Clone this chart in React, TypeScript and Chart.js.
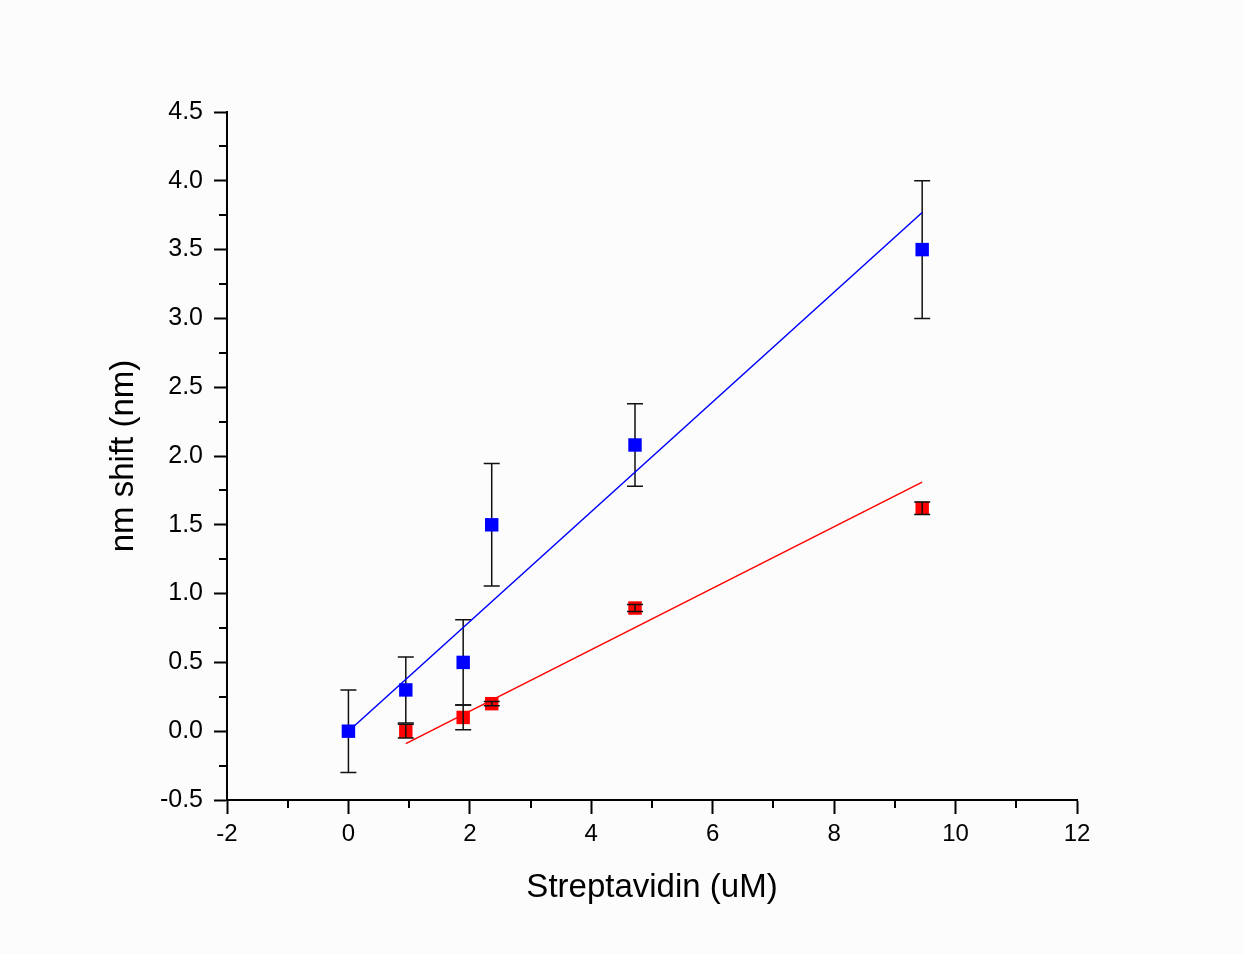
import React, { useEffect, useRef } from "react";
import { Chart, registerables } from "chart.js";

Chart.register(...registerables);

// ---- data ----
const blueConc = [0, 0.945, 1.89, 2.36, 4.72, 9.45];
const blueShift = [0, 0.3, 0.5, 1.5, 2.08, 3.5];
const blueErr = [0.3, 0.24, 0.31, 0.445, 0.3, 0.5];

const redConc = [0.945, 1.89, 2.36, 4.72, 9.45];
const redShift = [0, 0.1, 0.2, 0.895, 1.62];
const redErr = [0.05, 0.09, 0.015, 0.025, 0.045];

const blueFitX = [0, 9.45];
const blueFitY = [0, 3.77];
const redFitX = [0.945, 9.45];
const redFitY = [-0.09, 1.81];

const xMinorTicks = [-1, 1, 3, 5, 7, 9, 11];
const yMinorTicks = [-0.25, 0.25, 0.75, 1.25, 1.75, 2.25, 2.75, 3.25, 3.75, 4.25];

const FONT = "'Liberation Sans', Arial, sans-serif";

const toPts = (xs: number[], ys: number[]) => xs.map((x, i) => ({ x, y: ys[i] }));

function drawErrors(chart: any, xs: number[], ys: number[], errs: number[]) {
  const { ctx, scales } = chart;
  const xs_ = scales.x;
  const ys_ = scales.y;
  ctx.save();
  ctx.strokeStyle = "#111";
  ctx.lineWidth = 1.5;
  xs.forEach((xv, i) => {
    const px = xs_.getPixelForValue(xv);
    const top = ys_.getPixelForValue(ys[i] + errs[i]);
    const bot = ys_.getPixelForValue(ys[i] - errs[i]);
    ctx.beginPath();
    ctx.moveTo(px, top);
    ctx.lineTo(px, bot);
    ctx.moveTo(px - 8, top);
    ctx.lineTo(px + 8, top);
    ctx.moveTo(px - 8, bot);
    ctx.lineTo(px + 8, bot);
    ctx.stroke();
  });
  ctx.restore();
}

const customPlugin = {
  id: "custom",
  beforeDraw(chart: any) {
    const { ctx, width, height } = chart;
    ctx.save();
    ctx.fillStyle = "#fcfcfc";
    ctx.fillRect(0, 0, width, height);
    ctx.restore();
  },
  beforeDatasetsDraw(chart: any) {
    drawErrors(chart, blueConc, blueShift, blueErr);
  },
  afterDatasetsDraw(chart: any) {
    drawErrors(chart, redConc, redShift, redErr);
  },
  afterDraw(chart: any) {
    const { ctx, scales, chartArea } = chart;
    ctx.save();
    ctx.strokeStyle = "#000";
    ctx.lineWidth = 2;
    ctx.beginPath();
    xMinorTicks.forEach((v) => {
      const px = Math.round(scales.x.getPixelForValue(v));
      ctx.moveTo(px, chartArea.bottom);
      ctx.lineTo(px, chartArea.bottom + 8);
    });
    yMinorTicks.forEach((v) => {
      const py = Math.round(scales.y.getPixelForValue(v));
      ctx.moveTo(chartArea.left, py);
      ctx.lineTo(chartArea.left - 8, py);
    });
    ctx.stroke();
    ctx.restore();
  },
};

export default function App() {
  const ref = useRef<HTMLCanvasElement>(null);

  useEffect(() => {
    document.body.style.margin = "0";
    document.body.style.background = "#fcfcfc";
    const canvas = ref.current!;
    const chart = new Chart(canvas, {
      type: "scatter",
      data: {
        datasets: [
          {
            label: "blue",
            data: toPts(blueConc, blueShift),
            pointStyle: "rect",
            pointRadius: 9.5,
            pointBorderWidth: 0,
            backgroundColor: "#0000ff",
            borderColor: "#0000ff",
            showLine: false,
          },
          {
            label: "red",
            data: toPts(redConc, redShift),
            pointStyle: "rect",
            pointRadius: 9.5,
            pointBorderWidth: 0,
            backgroundColor: "#ff0000",
            borderColor: "#ff0000",
            showLine: false,
          },
          {
            label: "blue fit",
            data: toPts(blueFitX, blueFitY),
            showLine: true,
            pointRadius: 0,
            borderColor: "#0000ff",
            borderWidth: 1.5,
          },
          {
            label: "red fit",
            data: toPts(redFitX, redFitY),
            showLine: true,
            pointRadius: 0,
            borderColor: "#ff0000",
            borderWidth: 1.5,
          },
        ],
      },
      options: {
        animation: false,
        responsive: false,
        devicePixelRatio: 1,
        layout: { padding: { top: 112, right: 167, left: 0, bottom: 0 } },
        plugins: { legend: { display: false }, tooltip: { enabled: false } },
        scales: {
          x: {
            type: "linear",
            min: -2,
            max: 12,
            afterFit: (s: any) => {
              s.height = 154;
            },
            ticks: {
              stepSize: 2,
              color: "#000",
              font: { family: FONT, size: 24 },
              padding: 6,
              maxRotation: 0,
              callback: (v: any) => String(v),
            },
            grid: {
              display: true,
              drawOnChartArea: false,
              drawTicks: true,
              tickLength: 14,
              tickWidth: 2,
              tickColor: "#000",
            },
            border: { display: true, color: "#000", width: 2 },
            title: {
              display: true,
              text: "Streptavidin (uM)",
              color: "#000",
              font: { family: FONT, size: 33 },
              padding: { top: 0, bottom: 46 },
            },
          },
          y: {
            type: "linear",
            min: -0.5,
            max: 4.5,
            afterFit: (s: any) => {
              s.width = 227;
            },
            ticks: {
              stepSize: 0.5,
              color: "#000",
              font: { family: FONT, size: 25 },
              padding: 11,
              callback: (v: any) => Number(v).toFixed(1),
            },
            grid: {
              display: true,
              drawOnChartArea: false,
              drawTicks: true,
              tickLength: 13,
              tickWidth: 2,
              tickColor: "#000",
            },
            border: { display: true, color: "#000", width: 2 },
            title: {
              display: true,
              text: "nm shift (nm)",
              color: "#000",
              font: { family: FONT, size: 33 },
              padding: { top: 104, bottom: 0 },
            },
          },
        },
      },
      plugins: [customPlugin],
    } as any);
    return () => chart.destroy();
  }, []);

  return <canvas ref={ref} width={1244} height={954} style={{ display: "block" }} />;
}
